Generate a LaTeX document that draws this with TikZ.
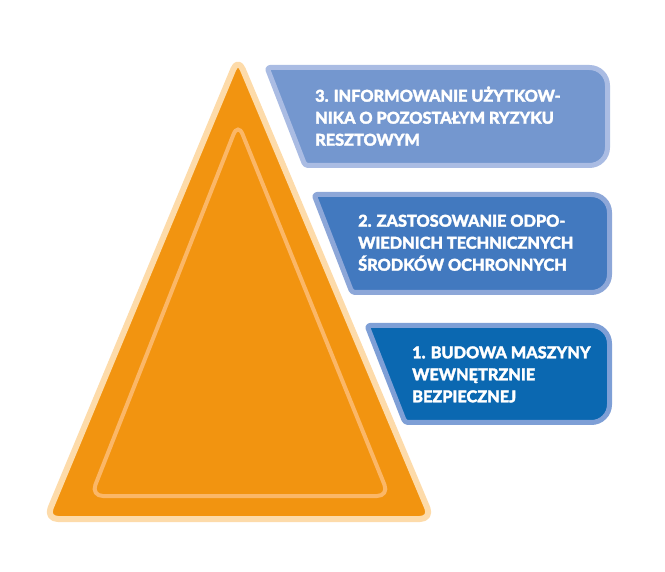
\documentclass[tikz,border=0pt]{standalone}
\usepackage{fontspec}
\setmainfont{Lato}
\newfontfamily\boxfont{Lato Heavy}[FakeBold=2]
\definecolor{trifill}{HTML}{F29410}
\definecolor{triedge}{HTML}{FDDBAA}
\definecolor{triinner}{HTML}{FBB767}
\definecolor{bthree}{HTML}{7497CF}
\definecolor{bthreeedge}{HTML}{AABCE3}
\definecolor{btwo}{HTML}{4279BF}
\definecolor{btwoedge}{HTML}{8DA7D8}
\definecolor{bone}{HTML}{0B68B1}
\definecolor{boneedge}{HTML}{7E9FD6}
\begin{document}
\begin{tikzpicture}[x=1pt,y=-1pt,
  boxtext/.style={anchor=base west, inner sep=0pt, text=white,
    font=\boxfont\fontsize{16.3}{22}\selectfont},
  stepshape/.style={line width=5pt, line join=round}]
\useasboundingbox (0,0) rectangle (665,572);
% pyramid
\filldraw[fill=trifill, draw=triedge, line width=6pt, rounded corners=12pt, line join=round]
  (238,58) -- (432,519) -- (46,519) -- cycle;
\draw[draw=triinner, line width=4pt, rounded corners=12pt]
  (238,123) -- (389,496) -- (91,496) -- cycle;
% box 3
\filldraw[stepshape, fill=bthree, draw=bthreeedge, rounded corners=3pt]
  (267,67.5) -- (450,67.5) [rounded corners=18pt] -- (607.5,67.5) -- (607.5,165.5) -- (450,165.5)
  [rounded corners=3pt] -- (305,165.5) -- cycle;
% box 2
\filldraw[stepshape, fill=btwo, draw=btwoedge, rounded corners=3pt]
  (314,194.5) -- (450,194.5) [rounded corners=18pt] -- (609.5,194.5) -- (609.5,292.5) -- (450,292.5)
  [rounded corners=3pt] -- (352,292.5) -- cycle;
% box 1
\filldraw[stepshape, fill=bone, draw=boneedge, rounded corners=3pt]
  (367,325.5) -- (480,325.5) [rounded corners=18pt] -- (609.5,325.5) -- (609.5,422.5) -- (480,422.5)
  [rounded corners=3pt] -- (405,422.5) -- cycle;
% texts
\node[boxtext] (t3) at (315,101.7) {\begin{tabular}[t]{@{}l@{}}3. INFORMOWANIE UŻYTKOW-\\NIKA O POZOSTAŁYM RYZYKU\\RESZTOWYM\end{tabular}};
\node[boxtext] (t2) at (358,226.7) {\begin{tabular}[t]{@{}l@{}}2. ZASTOSOWANIE ODPO-\\WIEDNICH TECHNICZNYCH\\ŚRODKÓW OCHRONNYCH\end{tabular}};
\node[boxtext] (t1) at (412,358.3) {\begin{tabular}[t]{@{}l@{}}1. BUDOWA MASZYNY\\WEWNĘTRZNIE\\BEZPIECZNEJ\end{tabular}};
\end{tikzpicture}
\end{document}
